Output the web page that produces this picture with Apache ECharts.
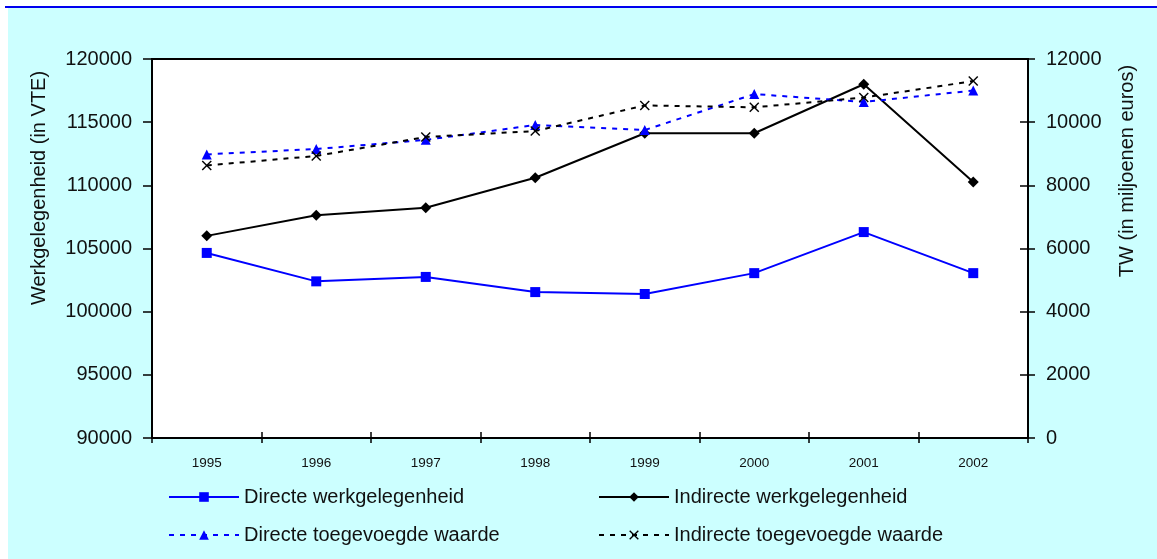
<!DOCTYPE html>
<html>
<head>
<meta charset="utf-8">
<script src="https://cdn.jsdelivr.net/npm/echarts@6/dist/echarts.min.js"></script>
<style>
  html, body { margin: 0; padding: 0; background: #fff; }
  #chart { width: 1157px; height: 559px; }
</style>
</head>
<body>
<div id="chart"></div>
<script>
var years = ['1995', '1996', '1997', '1998', '1999', '2000', '2001', '2002'];
// linker as (VTE)
var directWerk = [104650, 102400, 102750, 101550, 101400, 103050, 106300, 103050];
var indirectWerk = [106000, 107630, 108230, 110600, 114120, 114120, 118000, 110260];
// rechter as (TW, miljoenen euros)
var directTW = [8980, 9150, 9440, 9910, 9750, 10890, 10640, 11000];
var indirectTW = [8630, 8930, 9530, 9720, 10530, 10470, 10780, 11300];

var FONT = '"Liberation Sans", Arial, sans-serif';
var crossPath = 'path://M0,1L1,0L5,4L9,0L10,1L6,5L10,9L9,10L5,6L1,10L0,9L4,5Z';

var chart = echarts.init(document.getElementById('chart'));

function plain(v) { return String(v); }

chart.setOption({
  backgroundColor: '#fff',
  animation: false,
  graphic: [
    { type: 'rect', left: 8, top: 8, shape: { width: 1149, height: 551 }, style: { fill: '#CCFFFF' }, z: -10 },
    { type: 'rect', left: 5, top: 6, shape: { width: 1152, height: 2 }, style: { fill: '#0000EE' }, z: -9 },
    {
      type: 'text', x: 39, y: 188, rotation: Math.PI / 2,
      style: { text: 'Werkgelegenheid (in VTE)', font: '20px ' + FONT, fill: '#111', align: 'center', verticalAlign: 'middle' }
    },
    {
      type: 'text', x: 1127, y: 171, rotation: Math.PI / 2,
      style: { text: 'TW (in miljoenen euros)', font: '20px ' + FONT, fill: '#111', align: 'center', verticalAlign: 'middle' }
    }
  ],
  grid: {
    left: 152, right: 129, top: 59, bottom: 121,
    show: true, backgroundColor: '#fff', borderColor: '#000', borderWidth: 2
  },
  legend: [
    {
      data: ['Directe werkgelegenheid', 'Directe toegevoegde waarde'],
      orient: 'vertical', left: 168, top: 487, itemGap: 18, padding: 0,
      itemWidth: 70, itemHeight: 12,
      textStyle: { fontFamily: FONT, fontSize: 20, color: '#111' }
    },
    {
      data: ['Indirecte werkgelegenheid', 'Indirecte toegevoegde waarde'],
      orient: 'vertical', left: 598, top: 487, itemGap: 18, padding: 0,
      itemWidth: 70, itemHeight: 12,
      textStyle: { fontFamily: FONT, fontSize: 20, color: '#111' }
    }
  ],
  xAxis: [
    {
      type: 'category', data: years, boundaryGap: true,
      axisLine: { lineStyle: { color: '#000', width: 2 } },
      axisTick: { show: true, length: 5, lineStyle: { color: '#000', width: 1.5 } },
      axisLabel: { fontFamily: FONT, fontSize: 13.5, color: '#111', margin: 18 }
    },
    {
      type: 'category', data: years, boundaryGap: true, position: 'bottom',
      axisLine: { show: false },
      axisTick: { show: true, inside: true, length: 6, lineStyle: { color: '#000', width: 1.5 } },
      axisLabel: { show: false }
    }
  ],
  yAxis: [
    {
      type: 'value', min: 90000, max: 120000, interval: 5000, position: 'left',
      splitLine: { show: false },
      axisLine: { show: true, lineStyle: { color: '#000', width: 2 } },
      axisTick: { show: true, length: 9, lineStyle: { color: '#000', width: 1.5 } },
      axisLabel: { fontFamily: FONT, fontSize: 20, color: '#111', margin: 20, formatter: plain }
    },
    {
      type: 'value', min: 0, max: 12000, interval: 2000, position: 'right',
      splitLine: { show: false },
      axisLine: { show: true, lineStyle: { color: '#000', width: 2 } },
      axisTick: { show: true, length: 7, lineStyle: { color: '#000', width: 1.5 } },
      axisLabel: { fontFamily: FONT, fontSize: 20, color: '#111', margin: 18, formatter: plain }
    },
    {
      type: 'value', min: 0, max: 12000, interval: 2000, position: 'right',
      splitLine: { show: false },
      axisLine: { show: false },
      axisTick: { show: true, inside: true, length: 8, lineStyle: { color: '#000', width: 1.5 } },
      axisLabel: { show: false }
    }
  ],
  series: [
    {
      name: 'Directe werkgelegenheid', type: 'line', yAxisIndex: 0, data: directWerk,
      symbol: 'rect', symbolSize: 10,
      lineStyle: { color: '#0000FF', width: 2 }, itemStyle: { color: '#0000FF' }
    },
    {
      name: 'Indirecte werkgelegenheid', type: 'line', yAxisIndex: 0, data: indirectWerk,
      symbol: 'diamond', symbolSize: 11,
      lineStyle: { color: '#000', width: 2 }, itemStyle: { color: '#000' }
    },
    {
      name: 'Directe toegevoegde waarde', type: 'line', yAxisIndex: 1, data: directTW,
      symbol: 'triangle', symbolSize: 10,
      lineStyle: { color: '#0000FF', width: 2, type: [5, 6] }, itemStyle: { color: '#0000FF' }
    },
    {
      name: 'Indirecte toegevoegde waarde', type: 'line', yAxisIndex: 1, data: indirectTW,
      symbol: crossPath, symbolSize: 10,
      lineStyle: { color: '#000', width: 2, type: [5, 6] }, itemStyle: { color: '#000' }
    }
  ]
});
</script>
</body>
</html>
